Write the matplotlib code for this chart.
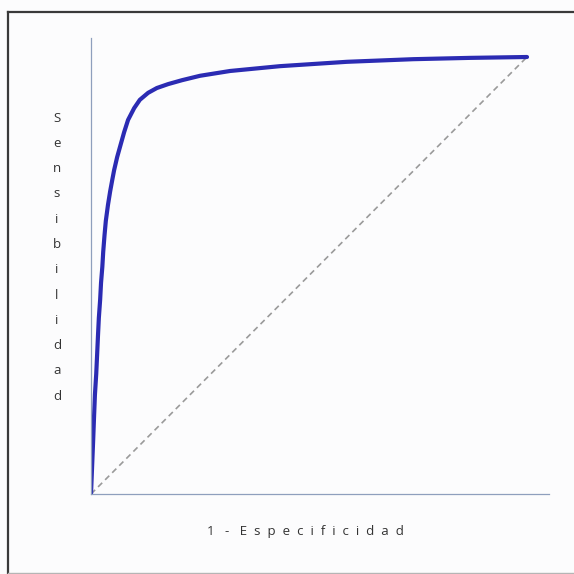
import matplotlib
matplotlib.use("Agg")
import matplotlib.pyplot as plt
from matplotlib.lines import Line2D

# ROC curve (1 - especificidad, sensibilidad)
fpr = [0, 0.003, 0.005, 0.007, 0.009, 0.012, 0.014, 0.016, 0.018, 0.021,
       0.023, 0.026, 0.028, 0.031, 0.034, 0.039, 0.044, 0.049, 0.053,
       0.060, 0.067, 0.076, 0.085, 0.099, 0.112, 0.131, 0.151, 0.177, 0.209,
       0.250, 0.319, 0.433, 0.587, 0.739, 0.869, 1.0]
tpr = [0, 0.075, 0.124, 0.177, 0.227, 0.275, 0.318, 0.362, 0.403, 0.445,
       0.483, 0.520, 0.554, 0.592, 0.625, 0.662, 0.693, 0.720, 0.741,
       0.771, 0.796, 0.828, 0.856, 0.883, 0.902, 0.918, 0.929, 0.938, 0.947,
       0.957, 0.968, 0.979, 0.989, 0.995, 0.998, 1.0]
chance = [0, 1]

x_label = "1 - Especificidad"
y_label = "Sensibilidad"

W = H = 574
fig = plt.figure(figsize=(W / 100, H / 100), dpi=100)
fig.patch.set_facecolor("#fcfcfd")


def fx(px):
    return px / W


def fy(py):
    return 1 - py / H


# outer frame (top and left dark, bottom light)
fig.add_artist(Line2D([fx(7.5), 1], [fy(11.5), fy(11.5)], color="#3a3a3a", lw=1.6))
fig.add_artist(Line2D([fx(7.5), fx(7.5)], [0, fy(11.5)], color="#3a3a3a", lw=1.6))
fig.add_artist(Line2D([fx(7.5), 1], [fy(573), fy(573)], color="#b5b5b5", lw=1.0))

ax = fig.add_axes([fx(91), fy(494), (549 - 91) / W, (494 - 38) / H])
ax.set_facecolor("none")
ax.set_xlim(0, 458 / 436)
ax.set_ylim(0, 456 / 437)
for s in ["top", "right"]:
    ax.spines[s].set_visible(False)
for s in ["left", "bottom"]:
    ax.spines[s].set_color("#8e9fbd")
    ax.spines[s].set_linewidth(0.9)
ax.set_xticks([])
ax.set_yticks([])

ax.plot(chance, chance, color="#9a9a9a", lw=1.2, ls=(0, (3.5, 2.5)))
ax.plot(fpr, tpr, color="#2b2bb3", lw=3.0, solid_capstyle="round",
        solid_joinstyle="round")

# axis labels, letter-spaced like the original
fig.text(fx(305), fy(532), "  ".join(x_label).replace("    ", "  "),
         ha="center", va="center", fontsize=9.5, color="#333333",
         family="Open Sans")
for i, ch in enumerate(y_label):
    fig.text(fx(57), fy(118 + i * 25.3), ch, ha="center", va="center",
             fontsize=9.5, color="#333333", family="Open Sans")

fig.savefig("out.png", dpi=100, facecolor=fig.get_facecolor())
